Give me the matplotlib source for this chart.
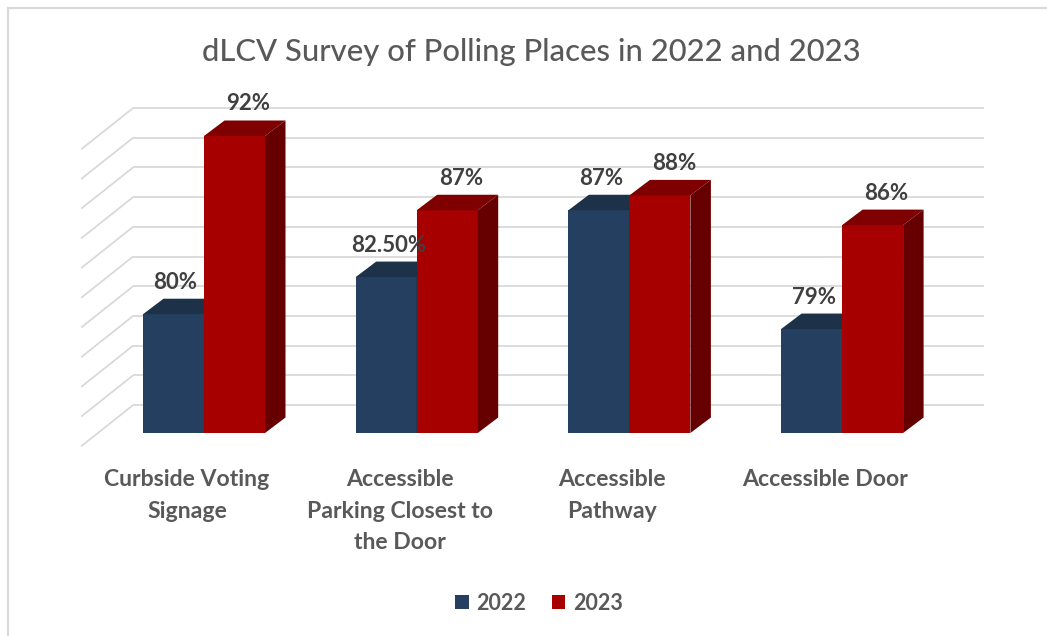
import matplotlib
matplotlib.use("Agg")
import matplotlib.pyplot as plt
from matplotlib.patches import Polygon, Patch, Rectangle

# ---------------- data ----------------
categories = ["Curbside Voting\nSignage",
              "Accessible\nParking Closest to\nthe Door",
              "Accessible\nPathway",
              "Accessible Door"]
series_names = ["2022", "2023"]
values_2022 = [80, 82.5, 87, 79]
values_2023 = [92, 87, 88, 86]
labels_2022 = ["80%", "82.50%", "87%", "79%"]
labels_2023 = ["92%", "87%", "88%", "86%"]
axis_min, axis_max, axis_step = 72, 92, 2
title = "dLCV Survey of Polling Places in 2022 and 2023"

# ---------------- layout / style ----------------
W, H, DPI = 1047, 636, 100
CAT0_PX, CAT_STEP_PX = 204.0, 212.7      # pixel x of first category, spacing
BASE_PX, PX_PER_UNIT = 433.0, 14.85      # pixel y of axis_min on front plane
XLIM, YLIM = (-0.8, 3.8), (68, 95)
BAR_W_PX = 61.0
DEPTH = (20.5, 15.5)       # bar depth offset (px right, px up)
WALL = (35.5, 28.0)        # back wall offset
SIDE_FRONT = (-16.5, -13.3)  # front end of side wall lines

BLUE = ("#243F60", "#1D3249", "#17283B")
RED = ("#A60000", "#7E0000", "#660000")
GRID = "#D9D9D9"
TXT = "#595959"
LBL = "#404040"
FONT = "Lato"

fig = plt.figure(figsize=(W / DPI, H / DPI), dpi=DPI)
fig.patch.set_facecolor("white")

left_px = CAT0_PX + XLIM[0] * CAT_STEP_PX
right_px = CAT0_PX + XLIM[1] * CAT_STEP_PX
bot_px = BASE_PX + (axis_min - YLIM[0]) * PX_PER_UNIT
top_px = BASE_PX - (YLIM[1] - axis_min) * PX_PER_UNIT
ax = fig.add_axes([left_px / W, 1 - bot_px / H,
                   (right_px - left_px) / W, (bot_px - top_px) / H])
ax.set_xlim(*XLIM)
ax.set_ylim(*YLIM)
ax.axis("off")


def px2data(dx, dy):
    inv = ax.transData.inverted()
    p = ax.transData.transform((0, axis_min))
    x1, y1 = inv.transform((p[0] + dx, p[1] + dy))
    return x1 - 0, y1 - axis_min


ddx, ddy = px2data(*DEPTH)
wdx, wdy = px2data(*WALL)
sdx, sdy = px2data(*SIDE_FRONT)
bw, _ = px2data(BAR_W_PX, 0)
n = len(categories)

# back wall gridlines and side-wall lines
v = axis_min
while v <= axis_max + 1e-9:
    ax.plot([-0.5 + wdx, n - 0.5 + wdx], [v + wdy, v + wdy], color=GRID,
            lw=1.3, zorder=1, clip_on=False, solid_capstyle="butt")
    ax.plot([-0.5 + wdx, -0.5 + sdx], [v + wdy, v + sdy], color=GRID,
            lw=1.3, zorder=1, clip_on=False, solid_capstyle="butt")
    v += axis_step

# 3D-style bars
z = 3
for i in range(n):
    for vals, cols, offs in ((values_2022, BLUE, -bw), (values_2023, RED, 0.0)):
        x0 = i + offs
        val = vals[i]
        ax.bar(x0, val - axis_min, bottom=axis_min, width=bw, align="edge",
               color=cols[0], edgecolor="none", zorder=z)
        top = [(x0, val), (x0 + bw, val), (x0 + bw + ddx, val + ddy), (x0 + ddx, val + ddy)]
        side = [(x0 + bw, axis_min), (x0 + bw, val), (x0 + bw + ddx, val + ddy),
                (x0 + bw + ddx, axis_min + ddy)]
        ax.add_patch(Polygon(top, closed=True, facecolor=cols[1], edgecolor="none", zorder=z))
        ax.add_patch(Polygon(side, closed=True, facecolor=cols[2], edgecolor="none", zorder=z))
        z += 1

renderer = fig.canvas.get_renderer()


def fit(t, target_px):
    for _ in range(3):
        w = t.get_window_extent(renderer).width
        t.set_fontsize(t.get_fontsize() * target_px / w)


# data labels
lx_b, _ = px2data(2, 0)
lx_r, _ = px2data(14, 0)
_, ly = px2data(0, 32)
data_texts = []
for i in range(n):
    for vals, labs, offs, lx in ((values_2022, labels_2022, -bw / 2, lx_b),
                                 (values_2023, labels_2023, bw / 2, lx_r)):
        t = ax.text(i + offs + lx, vals[i] + ly, labs[i], ha="center", va="center",
                    fontsize=15, fontweight="bold", color=LBL, family=FONT,
                    zorder=20, clip_on=False)
        data_texts.append(t)
        if labs[i] == "92%":
            ref = t
fit(ref, 44)
for t in data_texts:
    t.set_fontsize(ref.get_fontsize())

# category labels
cx, _ = px2data(-17, 0)
_, cy = px2data(0, -36)
cat_texts = []
for i, c in enumerate(categories):
    t = ax.text(i + cx, axis_min + cy, c, ha="center", va="top", fontsize=15,
                fontweight="bold", color=TXT, family=FONT, linespacing=1.62,
                clip_on=False)
    cat_texts.append(t)
fit(cat_texts[3], 166)
for t in cat_texts:
    t.set_fontsize(cat_texts[3].get_fontsize())

# title
tt = fig.text(531 / W, 1 - 52 / H, title, ha="center", va="center", fontsize=20,
              color=TXT, family=FONT, fontweight="medium")
fit(tt, 657)

# legend
handles = [Patch(facecolor=BLUE[0], edgecolor="none"),
           Patch(facecolor=RED[0], edgecolor="none")]
leg = fig.legend(handles, series_names, loc="center", bbox_to_anchor=(539 / W, 1 - 603 / H),
                 ncol=2, frameon=False, prop={"family": FONT, "weight": "bold", "size": 15.5},
                 handlelength=0.62, handleheight=0.62, handletextpad=0.35, columnspacing=1.2)
for t in leg.get_texts():
    t.set_color(TXT)

# chart border (top & left visible)
fig.patches.append(Rectangle((8 / W, -0.1), 1.2, (1 - 8 / H) + 0.1, transform=fig.transFigure,
                             fill=False, edgecolor=GRID, lw=1.6, zorder=0))

fig.savefig("out.png", dpi=DPI)
